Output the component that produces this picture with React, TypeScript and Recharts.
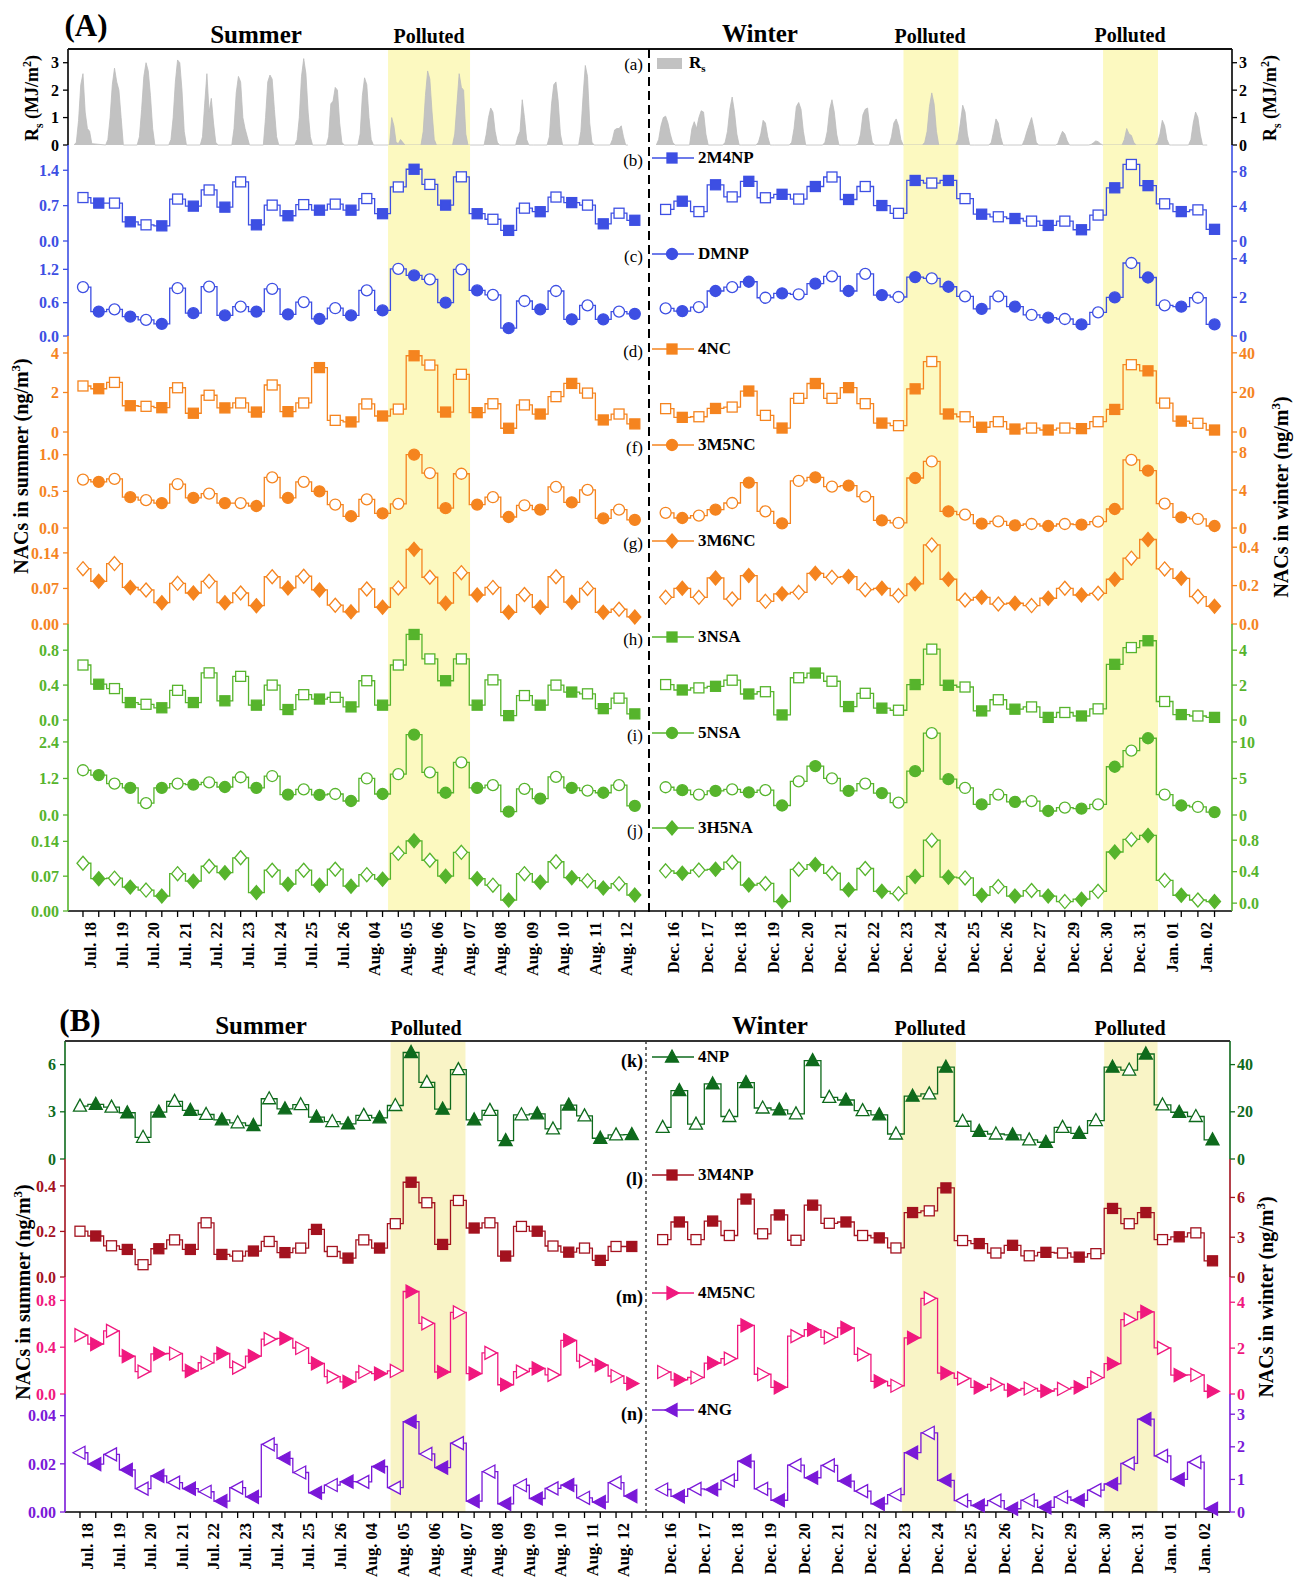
import React from "react";
import { ComposedChart, Line, Area, XAxis, YAxis, ReferenceArea } from "recharts";

// ---- categories ----
const summerDays = ["Jul. 18", "Jul. 19", "Jul. 20", "Jul. 21", "Jul. 22", "Jul. 23", "Jul. 24", "Jul. 25", "Jul. 26",
  "Aug. 04", "Aug. 05", "Aug. 06", "Aug. 07", "Aug. 08", "Aug. 09", "Aug. 10", "Aug. 11", "Aug. 12"];
const winterDays = ["Dec. 16", "Dec. 17", "Dec. 18", "Dec. 19", "Dec. 20", "Dec. 21", "Dec. 22", "Dec. 23", "Dec. 24",
  "Dec. 25", "Dec. 26", "Dec. 27", "Dec. 29", "Dec. 30", "Dec. 31", "Jan. 01", "Jan. 02"];

// ---- solar radiation, 9 readings through each daytime ----
const rsHours = [-0.56, -0.42, -0.28, -0.14, 0, 0.14, 0.28, 0.42, 0.56];
const rsSummer = [
  [0, 0.1, 0.9, 2.2, 2.6, 1.2, 0.6, 0.5, 0.05], [0, 0.2, 1.0, 2.2, 2.8, 2.3, 2.0, 1.0, 0],
  [0, 0.3, 1.3, 2.5, 3.0, 2.7, 1.8, 0.6, 0], [0, 0.2, 1.0, 2.3, 3.1, 3.0, 2.0, 0.5, 0],
  [0, 0.3, 1.5, 2.6, 1.2, 1.7, 0.8, 0.1, 0], [0, 0.6, 1.9, 2.5, 2.3, 1.0, 0.6, 0.3, 0],
  [0, 1.0, 2.3, 2.55, 2.4, 1.3, 0.3, 0, 0], [0, 0.2, 1.0, 2.5, 3.15, 2.6, 1.2, 0.3, 0],
  [0, 0.3, 1.5, 1.6, 2.1, 2.0, 0.8, 0.1, 0], [0, 0.4, 1.8, 2.45, 2.2, 1.0, 0.2, 0, 0],
  [0, 1.0, 0.7, 0.1, 0.05, 0.2, 0.1, 0, 0], [0, 0.5, 1.8, 2.7, 2.4, 1.2, 0.2, 0, 0],
  [0, 0.4, 1.5, 2.6, 2.1, 2.0, 0.4, 0, 0], [0, 0.4, 1.0, 1.35, 1.2, 0.5, 0.1, 0, 0],
  [0, 0.3, 0.5, 1.65, 1.0, 0.2, 0, 0, 0], [0, 0.3, 1.5, 2.2, 2.3, 1.6, 0.4, 0, 0],
  [0, 0.5, 1.8, 2.9, 2.5, 0.8, 0.1, 0, 0], [0, 0.2, 0.55, 0.6, 0.6, 0.7, 0.3, 0, 0],
];
const rsWinter = [
  [0, 0.2, 0.7, 1.0, 1.05, 0.8, 0.4, 0.1, 0], [0, 0.6, 0.85, 0.6, 1.0, 1.25, 1.2, 0.4, 0],
  [0, 0.1, 0.5, 1.3, 1.75, 1.2, 0.4, 0, 0], [0, 0.1, 0.4, 0.9, 0.8, 0.3, 0, 0, 0],
  [0, 0.1, 0.6, 1.4, 1.55, 1.3, 0.5, 0, 0], [0, 0.1, 0.5, 1.3, 1.65, 1.2, 0.4, 0, 0],
  [0, 0.05, 0.4, 1.1, 1.3, 1.35, 0.6, 0.1, 0], [0, 0.3, 0.8, 0.95, 0.7, 0.2, 0, 0, 0],
  [0, 0.1, 0.5, 1.4, 1.9, 1.5, 0.5, 0, 0], [0, 0.2, 0.8, 1.45, 1.2, 0.4, 0, 0, 0],
  [0, 0.1, 0.5, 0.95, 0.8, 0.3, 0, 0, 0], [0, 0.2, 0.5, 0.75, 1.0, 0.6, 0.1, 0, 0],
  [0, 0.05, 0.3, 0.5, 0.4, 0.15, 0, 0, 0], [0, 0.02, 0.08, 0.15, 0.12, 0.05, 0, 0, 0],
  [0, 0.2, 0.6, 0.4, 0.35, 0.1, 0, 0, 0], [0, 0.1, 0.4, 0.9, 0.7, 0.2, 0, 0, 0],
  [0, 0.2, 0.8, 1.2, 1.0, 0.4, 0, 0, 0],
];

// ---- NACs, day (open) / night (filled) alternating ----
const m2m4npSummer = [0.86, 0.75, 0.75, 0.38, 0.32, 0.30, 0.83, 0.69, 1.01, 0.67, 1.17, 0.32, 0.71, 0.50, 0.72, 0.61, 0.73, 0.61, 0.84, 0.54, 1.07, 1.42, 1.12, 0.71, 1.27, 0.54, 0.43, 0.21, 0.65, 0.58, 0.87, 0.76, 0.71, 0.34, 0.55, 0.41];
const m2m4npWinter = [3.65, 4.6, 3.4, 6.5, 5.1, 6.9, 5.0, 5.4, 4.85, 6.3, 7.4, 4.8, 6.3, 4.1, 3.2, 7.0, 6.7, 7.0, 4.9, 3.1, 2.8, 2.6, 2.3, 1.8, 2.3, 1.3, 3.0, 6.15, 8.85, 6.4, 4.3, 3.4, 3.6, 1.35];
const dmnpSummer = [0.88, 0.44, 0.48, 0.35, 0.29, 0.22, 0.86, 0.41, 0.89, 0.37, 0.53, 0.44, 0.85, 0.39, 0.61, 0.31, 0.50, 0.37, 0.82, 0.46, 1.21, 1.09, 1.02, 0.60, 1.20, 0.82, 0.74, 0.14, 0.63, 0.48, 0.81, 0.30, 0.55, 0.30, 0.44, 0.40];
const dmnpWinter = [1.43, 1.29, 1.5, 2.33, 2.53, 2.81, 1.98, 2.21, 2.16, 2.71, 3.09, 2.33, 3.22, 2.12, 2.02, 3.05, 2.98, 2.55, 2.05, 1.40, 2.05, 1.52, 1.09, 0.95, 0.88, 0.60, 1.22, 2.0, 3.78, 3.03, 1.59, 1.52, 1.98, 0.60];
const nc4Summer = [2.33, 2.19, 2.51, 1.33, 1.30, 1.23, 2.24, 0.95, 1.86, 1.22, 1.47, 1.01, 2.38, 1.03, 1.47, 3.26, 0.59, 0.51, 1.42, 0.81, 1.16, 3.86, 3.39, 1.01, 2.92, 0.98, 1.43, 0.19, 1.37, 0.91, 1.79, 2.46, 1.97, 0.61, 0.91, 0.41];
const nc4Winter = [11.8, 7.4, 7.7, 11.9, 12.6, 20.7, 8.4, 2.0, 17.0, 24.5, 17.0, 22.4, 14.3, 4.5, 3.2, 21.8, 35.6, 9.1, 7.7, 2.4, 5.2, 1.5, 2.0, 1.0, 2.0, 1.7, 5.2, 11.4, 34.0, 30.9, 14.6, 5.5, 4.4, 1.0];
const m3m5ncSummer = [0.66, 0.63, 0.67, 0.42, 0.38, 0.34, 0.60, 0.41, 0.47, 0.34, 0.34, 0.30, 0.69, 0.41, 0.63, 0.50, 0.32, 0.16, 0.39, 0.20, 0.33, 1.0, 0.75, 0.27, 0.74, 0.32, 0.42, 0.15, 0.31, 0.25, 0.56, 0.35, 0.52, 0.13, 0.25, 0.11];
const m3m5ncWinter = [1.6, 1.05, 1.3, 1.93, 2.63, 4.77, 1.75, 0.49, 4.95, 5.33, 4.35, 4.46, 3.3, 0.81, 0.53, 5.26, 7.0, 1.75, 1.4, 0.46, 0.70, 0.28, 0.42, 0.21, 0.42, 0.35, 0.67, 2.0, 7.16, 6.03, 2.56, 1.12, 0.95, 0.21];
const m3m6ncSummer = [0.109, 0.084, 0.119, 0.072, 0.067, 0.042, 0.080, 0.061, 0.084, 0.042, 0.061, 0.036, 0.093, 0.071, 0.094, 0.067, 0.037, 0.024, 0.069, 0.033, 0.071, 0.147, 0.092, 0.041, 0.101, 0.057, 0.072, 0.023, 0.058, 0.033, 0.093, 0.043, 0.070, 0.023, 0.029, 0.014];
const m3m6ncWinter = [0.139, 0.186, 0.139, 0.24, 0.13, 0.252, 0.118, 0.157, 0.165, 0.264, 0.243, 0.247, 0.179, 0.186, 0.148, 0.209, 0.412, 0.233, 0.125, 0.139, 0.104, 0.108, 0.096, 0.134, 0.186, 0.151, 0.16, 0.233, 0.343, 0.44, 0.287, 0.238, 0.143, 0.092];
const nsa3Summer = [0.63, 0.41, 0.36, 0.20, 0.18, 0.14, 0.34, 0.20, 0.54, 0.22, 0.50, 0.17, 0.40, 0.12, 0.29, 0.24, 0.26, 0.15, 0.45, 0.17, 0.63, 0.98, 0.70, 0.45, 0.70, 0.17, 0.46, 0.05, 0.28, 0.17, 0.40, 0.32, 0.30, 0.13, 0.25, 0.07];
const nsa3Winter = [2.03, 1.72, 1.84, 1.93, 2.28, 1.49, 1.62, 0.29, 2.42, 2.69, 2.22, 0.77, 1.53, 0.68, 0.56, 2.03, 4.06, 1.99, 1.89, 0.52, 1.16, 0.62, 0.75, 0.15, 0.43, 0.23, 0.64, 3.19, 4.15, 4.54, 1.06, 0.31, 0.23, 0.15];
const nsa5Summer = [1.47, 1.31, 1.03, 0.89, 0.39, 0.89, 1.03, 1.0, 1.07, 0.92, 1.24, 0.89, 1.28, 0.67, 0.84, 0.66, 0.69, 0.46, 1.2, 0.69, 1.34, 2.64, 1.40, 0.73, 1.73, 0.89, 0.98, 0.11, 0.86, 0.54, 1.25, 0.89, 0.80, 0.73, 0.98, 0.30];
const nsa5Winter = [3.8, 3.4, 2.8, 3.3, 3.5, 3.1, 3.4, 1.3, 4.6, 6.7, 5.0, 3.3, 4.3, 3.0, 1.7, 6.0, 11.2, 4.9, 3.7, 1.45, 2.8, 1.8, 1.9, 0.55, 1.0, 0.86, 1.45, 6.6, 8.8, 10.5, 2.8, 1.3, 1.1, 0.4];
const h5naSummer = [0.096, 0.065, 0.066, 0.048, 0.042, 0.030, 0.075, 0.060, 0.090, 0.077, 0.107, 0.037, 0.082, 0.054, 0.082, 0.052, 0.084, 0.050, 0.073, 0.064, 0.116, 0.141, 0.102, 0.070, 0.118, 0.065, 0.052, 0.022, 0.075, 0.058, 0.099, 0.067, 0.061, 0.046, 0.055, 0.032];
const h5naWinter = [0.41, 0.38, 0.42, 0.43, 0.52, 0.23, 0.25, 0.02, 0.43, 0.49, 0.38, 0.17, 0.44, 0.15, 0.12, 0.34, 0.80, 0.33, 0.32, 0.10, 0.21, 0.09, 0.16, 0.09, 0.02, 0.05, 0.15, 0.65, 0.81, 0.86, 0.29, 0.10, 0.04, 0.02];
const np4Summer = [3.36, 3.47, 3.30, 2.94, 1.38, 2.98, 3.66, 3.09, 2.83, 2.49, 2.30, 2.13, 3.83, 3.19, 3.45, 2.66, 2.38, 2.23, 2.77, 2.62, 3.40, 6.77, 4.87, 3.17, 5.68, 2.49, 3.09, 1.17, 2.81, 2.87, 1.91, 3.43, 2.74, 1.32, 1.53, 1.55];
const np4Winter = [13.4, 29.0, 14.8, 31.8, 18.0, 32.4, 21.6, 20.8, 19.1, 41.7, 26.1, 25.0, 20.5, 18.7, 10.6, 26.6, 27.6, 38.9, 16.0, 11.7, 10.6, 10.2, 8.1, 7.1, 13.4, 10.9, 16.3, 38.9, 37.7, 44.5, 22.9, 19.8, 18.0, 8.1];
const m3m4npSummer = [0.201, 0.180, 0.137, 0.121, 0.054, 0.124, 0.163, 0.121, 0.238, 0.099, 0.092, 0.114, 0.156, 0.107, 0.127, 0.209, 0.112, 0.083, 0.163, 0.127, 0.234, 0.416, 0.326, 0.143, 0.336, 0.215, 0.238, 0.092, 0.222, 0.201, 0.136, 0.109, 0.127, 0.073, 0.134, 0.134];
const m3m4npWinter = [2.82, 4.15, 2.82, 4.22, 3.13, 5.88, 3.26, 4.68, 2.77, 5.42, 4.05, 4.15, 3.13, 2.95, 2.19, 4.86, 4.99, 6.72, 2.75, 2.52, 1.81, 2.39, 1.60, 1.86, 1.81, 1.50, 1.76, 5.17, 4.02, 4.86, 2.82, 3.03, 3.33, 1.22];
const m4m5ncSummer = [0.503, 0.427, 0.539, 0.323, 0.191, 0.343, 0.346, 0.197, 0.267, 0.346, 0.225, 0.323, 0.469, 0.475, 0.393, 0.261, 0.149, 0.104, 0.188, 0.174, 0.197, 0.876, 0.604, 0.188, 0.697, 0.174, 0.351, 0.079, 0.191, 0.219, 0.163, 0.458, 0.281, 0.247, 0.154, 0.090];
const m4m5ncWinter = [0.96, 0.62, 0.72, 1.35, 1.54, 2.99, 0.86, 0.29, 2.52, 2.81, 2.47, 2.88, 1.73, 0.55, 0.36, 2.45, 4.17, 0.91, 0.68, 0.29, 0.42, 0.17, 0.24, 0.13, 0.22, 0.29, 0.71, 1.32, 3.24, 3.58, 2.01, 0.82, 0.83, 0.12];
const ng4Summer = [0.0246, 0.0199, 0.0239, 0.0175, 0.0097, 0.0150, 0.0122, 0.0097, 0.0084, 0.0045, 0.0101, 0.0063, 0.0281, 0.0223, 0.0164, 0.0080, 0.0112, 0.0126, 0.0125, 0.0189, 0.0101, 0.0375, 0.0241, 0.0184, 0.0286, 0.0045, 0.0168, 0.0034, 0.0111, 0.0056, 0.0098, 0.0112, 0.0059, 0.0041, 0.0122, 0.0066];
const ng4Winter = [0.69, 0.48, 0.71, 0.69, 0.97, 1.56, 0.71, 0.36, 1.44, 1.05, 1.43, 0.95, 0.64, 0.25, 0.53, 1.82, 2.43, 0.97, 0.35, 0.20, 0.35, 0.10, 0.36, 0.14, 0.46, 0.36, 0.67, 0.86, 1.49, 2.85, 1.72, 1.0, 1.53, 0.10];

// ---- look ----
const FONT = '"Liberation Serif", "Times New Roman", serif';
const BLUE = "#3d4fe3";
const ORANGE = "#f5841f";
const GREEN = "#56b42c";
const DKGREEN = "#0e6a1c";
const DKRED = "#a3121f";
const PINK = "#f0187e";
const PURPLE = "#7a18d8";
const SEP_GREY = "#6e6e6e";
const SEP_DARK = "#222";

const SUMMER_X: [number, number] = [-0.95, 35.9];
const WINTER_X: [number, number] = [-1.0, 34.05];

type Shape = "square" | "circle" | "diamond" | "up" | "right" | "left";
type Frame = { left: number; mid: number; right: number; top: number; rowH: number; shadeS: [number, number][]; shadeW: [number, number][]; shade: string };
type Side = { values: number[]; domain: [number, number]; ticks: number[]; digits: number };
type Row = { id: string; name: string; color: string; shape: Shape; s: Side; w: Side; sep: string };

const frameA: Frame = { left: 68, mid: 649, right: 1232, top: 49, rowH: 95.8, shadeS: [[19.35, 24.55]], shadeW: [[14.3, 17.6], [26.3, 29.6]], shade: "#fcf9c0" };
const frameB: Frame = { left: 65, mid: 646, right: 1230, top: 1041, rowH: 117.8, shadeS: [[19.7, 24.45]], shadeW: [[14.37, 17.6], [26.5, 29.7]], shade: "#f9f4c6" };

const rowsA: Row[] = [
  { id: "b", name: "2M4NP", color: BLUE, shape: "square", sep: SEP_GREY,
    s: { values: m2m4npSummer, domain: [0, 1.9], ticks: [0, 0.7, 1.4], digits: 1 },
    w: { values: m2m4npWinter, domain: [0, 11.1], ticks: [0, 4, 8], digits: 0 } },
  { id: "c", name: "DMNP", color: BLUE, shape: "circle", sep: SEP_DARK,
    s: { values: dmnpSummer, domain: [0, 1.71], ticks: [0, 0.6, 1.2], digits: 1 },
    w: { values: dmnpWinter, domain: [0, 4.92], ticks: [0, 2, 4], digits: 0 } },
  { id: "d", name: "4NC", color: ORANGE, shape: "square", sep: SEP_GREY,
    s: { values: nc4Summer, domain: [0, 4.86], ticks: [0, 2, 4], digits: 0 },
    w: { values: nc4Winter, domain: [0, 48.5], ticks: [0, 20, 40], digits: 0 } },
  { id: "f", name: "3M5NC", color: ORANGE, shape: "circle", sep: SEP_GREY,
    s: { values: m3m5ncSummer, domain: [0, 1.31], ticks: [0, 0.5, 1.0], digits: 1 },
    w: { values: m3m5ncWinter, domain: [0, 10.1], ticks: [0, 4, 8], digits: 0 } },
  { id: "g", name: "3M6NC", color: ORANGE, shape: "diamond", sep: SEP_DARK,
    s: { values: m3m6ncSummer, domain: [0, 0.189], ticks: [0, 0.07, 0.14], digits: 2 },
    w: { values: m3m6ncWinter, domain: [0, 0.5], ticks: [0, 0.2, 0.4], digits: 1 } },
  { id: "h", name: "3NSA", color: GREEN, shape: "square", sep: SEP_GREY,
    s: { values: nsa3Summer, domain: [0, 1.1], ticks: [0, 0.4, 0.8], digits: 1 },
    w: { values: nsa3Winter, domain: [0, 5.5], ticks: [0, 2, 4], digits: 0 } },
  { id: "i", name: "5NSA", color: GREEN, shape: "circle", sep: SEP_GREY,
    s: { values: nsa5Summer, domain: [0, 3.12], ticks: [0, 1.2, 2.4], digits: 1 },
    w: { values: nsa5Winter, domain: [0, 13], ticks: [0, 5, 10], digits: 0 } },
  { id: "j", name: "3H5NA", color: GREEN, shape: "diamond", sep: "#000",
    s: { values: h5naSummer, domain: [0, 0.193], ticks: [0, 0.07, 0.14], digits: 2 },
    w: { values: h5naWinter, domain: [-0.1, 1.12], ticks: [0, 0.4, 0.8], digits: 1 } },
];

const rowsB: Row[] = [
  { id: "k", name: "4NP", color: DKGREEN, shape: "up", sep: SEP_GREY,
    s: { values: np4Summer, domain: [0, 7.5], ticks: [0, 3, 6], digits: 0 },
    w: { values: np4Winter, domain: [0, 50], ticks: [0, 20, 40], digits: 0 } },
  { id: "l", name: "3M4NP", color: DKRED, shape: "square", sep: SEP_DARK,
    s: { values: m3m4npSummer, domain: [0, 0.518], ticks: [0, 0.2, 0.4], digits: 1 },
    w: { values: m3m4npWinter, domain: [0, 8.9], ticks: [0, 3, 6], digits: 0 } },
  { id: "m", name: "4M5NC", color: PINK, shape: "right", sep: SEP_DARK,
    s: { values: m4m5ncSummer, domain: [0, 1.0], ticks: [0, 0.4, 0.8], digits: 1 },
    w: { values: m4m5ncWinter, domain: [0, 5.1], ticks: [0, 2, 4], digits: 0 } },
  { id: "n", name: "4NG", color: PURPLE, shape: "left", sep: "#000",
    s: { values: ng4Summer, domain: [0, 0.049], ticks: [0, 0.02, 0.04], digits: 2 },
    w: { values: ng4Winter, domain: [0, 3.62], ticks: [0, 1, 2, 3], digits: 0 } },
];

function marker(shape: Shape, cx: number, cy: number, fill: string, stroke: string, key?: string) {
  const sw = 1.3;
  if (shape === "circle") return <circle key={key} cx={cx} cy={cy} r={5.5} fill={fill} stroke={stroke} strokeWidth={sw} />;
  if (shape === "square") return <rect key={key} x={cx - 5} y={cy - 5} width={10} height={10} fill={fill} stroke={stroke} strokeWidth={sw} />;
  let d = "";
  if (shape === "diamond") d = `M${cx},${cy - 7}L${cx + 6},${cy}L${cx},${cy + 7}L${cx - 6},${cy}Z`;
  if (shape === "up") d = `M${cx},${cy - 7}L${cx + 6.5},${cy + 5}L${cx - 6.5},${cy + 5}Z`;
  if (shape === "right") d = `M${cx + 7},${cy}L${cx - 5},${cy - 6.5}L${cx - 5},${cy + 6.5}Z`;
  if (shape === "left") d = `M${cx - 7},${cy}L${cx + 5},${cy - 6.5}L${cx + 5},${cy + 6.5}Z`;
  return <path key={key} d={d} fill={fill} stroke={stroke} strokeWidth={sw} />;
}

const buildRs = (days: number[][]) => days.flatMap((vals, d) => vals.map((v, k) => ({ i: 2 * d + rsHours[k], v })));

const AW = 58;
const PAD = 10; // room below each row so the zero tick label is not cut

function Half(props: {
  winter: boolean; frame: Frame; top: number; height: number; side: Side; color: string;
  shape?: Shape; sep: string; labels?: string[]; rs?: { i: number; v: number }[];
}) {
  const { winter, frame, top, height, side, color, shape, sep, labels, rs } = props;
  const plotL = winter ? frame.mid : frame.left;
  const plotR = winter ? frame.right : frame.mid;
  const plotW = plotR - plotL;
  const xDomain = winter ? WINTER_X : SUMMER_X;
  const XH = labels ? 90 : 0;
  const bottomPad = labels ? 0 : PAD;
  const w = plotW + AW;
  const h = height + XH + bottomPad;
  const data = rs ?? side.values.map((v, i) => ({ i, v }));
  const step = plotW / (xDomain[1] - xDomain[0]);
  const idx = labels ? Array.from({ length: labels.length * 2 }, (_, i) => i) : [];
  const shades = winter ? frame.shadeW : frame.shadeS;

  const xTick = (p: any) => {
    const i = p.payload.value;
    if (!labels || i % 2 !== 0) return <g />;
    const x = p.x + step / 2;
    const y = p.y + 3;
    return (
      <text transform={`translate(${x},${y}) rotate(-90)`} textAnchor="end" dominantBaseline="central"
        fontFamily={FONT} fontWeight={700} fontSize={16.5} fill="#000">{labels[i / 2]}</text>
    );
  };

  return (
    <div style={{ position: "absolute", left: winter ? plotL : plotL - AW, top, width: w, height: h }}>
      <ComposedChart width={w} height={h} data={data} margin={{ top: 0, right: 0, bottom: bottomPad, left: 0 }}>
        {shades.map(([a, b], k) => (
          <ReferenceArea key={k} x1={a} x2={b} fill={frame.shade} fillOpacity={1} stroke="none" />
        ))}
        <XAxis type="number" dataKey="i" domain={xDomain} ticks={idx} interval={0} height={XH}
          tick={labels ? xTick : false} tickLine={labels ? { stroke: "#000", strokeWidth: 1.3 } : false} tickSize={6}
          axisLine={{ stroke: sep, strokeWidth: 1.6 }} />
        <YAxis orientation={winter ? "right" : "left"} width={AW} type="number" domain={side.domain}
          ticks={side.ticks} interval={0} tickFormatter={(v: number) => v.toFixed(side.digits)}
          tick={{ fill: color, fontSize: 16, fontWeight: 700, fontFamily: FONT }}
          tickLine={{ stroke: color, strokeWidth: 1.3 }} tickSize={5} tickMargin={winter ? 2 : 4}
          axisLine={{ stroke: color, strokeWidth: 1.6 }} />
        {rs ? (
          <Area type="linear" dataKey="v" stroke="#bcbcbc" strokeWidth={0.8} fill="#c2c2c2" fillOpacity={1}
            isAnimationActive={false} dot={false} activeDot={false} />
        ) : (
          <Line type="step" dataKey="v" stroke={color} strokeWidth={1.3} isAnimationActive={false} activeDot={false}
            dot={(p: any) => marker(shape as Shape, p.cx, p.cy, p.index % 2 ? color : "#fff", color, `d${p.index}`)} />
        )}
      </ComposedChart>
    </div>
  );
}

function Legend({ x, y, name, color, shape }: { x: number; y: number; name: string; color: string; shape: Shape }) {
  return (
    <div style={{ position: "absolute", left: x, top: y - 11, height: 22, display: "flex", alignItems: "center" }}>
      <svg width={42} height={22}>
        <line x1={0} y1={11} x2={42} y2={11} stroke={color} strokeWidth={1.5} />
        {marker(shape, 20, 11, color, color)}
      </svg>
      <span style={{ marginLeft: 4, font: `700 17px ${FONT}`, color: "#000" }}>{name}</span>
    </div>
  );
}

function Txt({ x, y, children, size, bold = true, anchor = "center" }: any) {
  const tx = anchor === "center" ? "-50%" : anchor === "end" ? "-100%" : "0";
  return (
    <div style={{
      position: "absolute", left: x, top: y, whiteSpace: "nowrap", color: "#000",
      font: `${bold ? 700 : 400} ${size}px ${FONT}`, lineHeight: 1,
      transform: `translate(${tx},-50%)`,
    }}>{children}</div>
  );
}

function RotTxt({ x, y, size, children }: any) {
  return (
    <div style={{
      position: "absolute", left: x, top: y, whiteSpace: "nowrap", color: "#000",
      font: `700 ${size}px ${FONT}`, lineHeight: 1, transform: "translate(-50%,-50%) rotate(-90deg)",
    }}>{children}</div>
  );
}

const rowTop = (f: Frame, k: number) => Math.round(f.top + k * f.rowH);

function Panel({ frame, rows, withRs }: { frame: Frame; rows: Row[]; withRs: boolean }) {
  const offset = withRs ? 1 : 0;
  const out: React.ReactNode[] = [];
  if (withRs) {
    const t = rowTop(frame, 0);
    const h = rowTop(frame, 1) - t;
    const rsSide: Side = { values: [], domain: [0, 3.5], ticks: [0, 1, 2, 3], digits: 0 };
    out.push(<Half key="as" winter={false} frame={frame} top={t} height={h} side={rsSide} color="#000" sep={SEP_DARK} rs={buildRs(rsSummer)} />);
    out.push(<Half key="aw" winter={true} frame={frame} top={t} height={h} side={rsSide} color="#000" sep={SEP_DARK} rs={buildRs(rsWinter)} />);
  }
  rows.forEach((r, k) => {
    const t = rowTop(frame, k + offset);
    const h = rowTop(frame, k + offset + 1) - t;
    const last = k === rows.length - 1;
    out.push(<Half key={r.id + "s"} winter={false} frame={frame} top={t} height={h} side={r.s} color={r.color} shape={r.shape} sep={r.sep} labels={last ? summerDays : undefined} />);
    out.push(<Half key={r.id + "w"} winter={true} frame={frame} top={t} height={h} side={r.w} color={r.color} shape={r.shape} sep={r.sep} labels={last ? winterDays : undefined} />);
  });
  return <>{out}</>;
}

export default function App() {
  const bottomA = rowTop(frameA, rowsA.length + 1);
  const bottomB = rowTop(frameB, rowsB.length);
  return (
    <div style={{ position: "absolute", left: 0, top: 0, width: 1299, height: 1590, background: "#fff", fontFamily: FONT }}>
      <Panel frame={frameA} rows={rowsA} withRs />
      <Panel frame={frameB} rows={rowsB} withRs={false} />

      {/* frames and dividers */}
      <div style={{ position: "absolute", left: frameA.left, top: frameA.top - 1, width: frameA.right - frameA.left, height: 2, background: "#111" }} />
      <div style={{ position: "absolute", left: frameB.left, top: frameB.top - 1, width: frameB.right - frameB.left, height: 2, background: "#333" }} />
      <svg style={{ position: "absolute", left: 0, top: 0 }} width={1299} height={1590}>
        <line x1={frameA.mid} y1={frameA.top} x2={frameA.mid} y2={bottomA + 6} stroke="#000" strokeWidth={2} strokeDasharray="9 5" />
        <line x1={frameB.mid} y1={frameB.top} x2={frameB.mid} y2={bottomB + 6} stroke="#333" strokeWidth={1.4} strokeDasharray="3 3" />
      </svg>

      {/* panel A headings */}
      <Txt x={86} y={25} size={31}>(A)</Txt>
      <Txt x={256} y={34} size={25}>Summer</Txt>
      <Txt x={429} y={36} size={20}>Polluted</Txt>
      <Txt x={760} y={33} size={25}>Winter</Txt>
      <Txt x={930} y={36} size={20}>Polluted</Txt>
      <Txt x={1130} y={35} size={20}>Polluted</Txt>

      {/* panel B headings */}
      <Txt x={80} y={1020} size={31}>(B)</Txt>
      <Txt x={261} y={1025} size={25}>Summer</Txt>
      <Txt x={426} y={1028} size={20}>Polluted</Txt>
      <Txt x={770} y={1025} size={25}>Winter</Txt>
      <Txt x={930} y={1028} size={20}>Polluted</Txt>
      <Txt x={1130} y={1028} size={20}>Polluted</Txt>

      {/* axis titles */}
      <RotTxt x={33} y={98} size={18}>R<sub style={{ fontSize: 12 }}>s</sub> (MJ/m<sup style={{ fontSize: 12 }}>2</sup>)</RotTxt>
      <RotTxt x={1271} y={98} size={18}>R<sub style={{ fontSize: 12 }}>s</sub> (MJ/m<sup style={{ fontSize: 12 }}>2</sup>)</RotTxt>
      <RotTxt x={20} y={466} size={20}>NACs in summer (ng/m<sup style={{ fontSize: 13 }}>3</sup>)</RotTxt>
      <RotTxt x={1280} y={497} size={20}>NACs in winter (ng/m<sup style={{ fontSize: 13 }}>3</sup>)</RotTxt>
      <RotTxt x={22} y={1292} size={20}>NACs in summer (ng/m<sup style={{ fontSize: 13 }}>3</sup>)</RotTxt>
      <RotTxt x={1265} y={1297} size={20}>NACs in winter (ng/m<sup style={{ fontSize: 13 }}>3</sup>)</RotTxt>

      {/* sub-panel letters and legends, panel A */}
      <Txt x={643} y={rowTop(frameA, 0) + 15} size={17} bold={false} anchor="end">(a)</Txt>
      <div style={{ position: "absolute", left: 657, top: 58, width: 25, height: 11, background: "#c2c2c2" }} />
      <Txt x={689} y={64} size={17} anchor="start">R<sub style={{ fontSize: 11 }}>s</sub></Txt>
      {rowsA.map((r, k) => (
        <React.Fragment key={r.id}>
          <Txt x={643} y={rowTop(frameA, k + 1) + 15} size={17} bold={false} anchor="end">({r.id})</Txt>
          <Legend x={652} y={rowTop(frameA, k + 1) + 13} name={r.name} color={r.color} shape={r.shape} />
        </React.Fragment>
      ))}

      {/* panel B letters and legends */}
      {rowsB.map((r, k) => (
        <React.Fragment key={r.id}>
          <Txt x={643} y={rowTop(frameB, k) + 20} size={18} anchor="end">({r.id})</Txt>
          <Legend x={652} y={rowTop(frameB, k) + 16} name={r.name} color={r.color} shape={r.shape} />
        </React.Fragment>
      ))}
    </div>
  );
}
